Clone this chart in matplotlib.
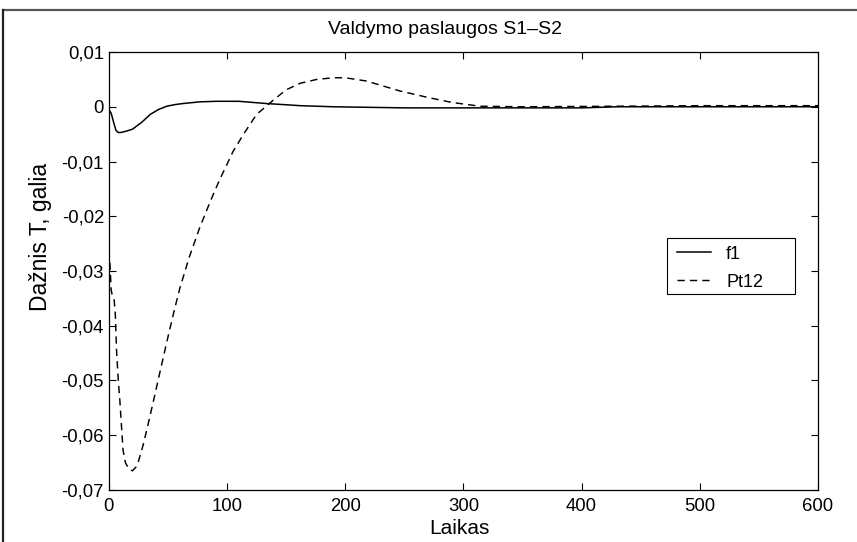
import matplotlib
matplotlib.use("Agg")
import matplotlib.pyplot as plt
from matplotlib.lines import Line2D
from matplotlib.patches import Rectangle

plt.rcParams["font.family"] = ["Liberation Sans", "DejaVu Sans"]

# ── Data ──────────────────────────────────────────────────────────────────
f1_t = [0, 2, 4, 6, 8, 10, 14, 20, 28, 35, 42, 49, 56, 63, 77, 91, 110,
        133, 162, 190, 220, 250, 300, 350, 400, 430, 500, 600]
f1_v = [-0.0005, -0.0012, -0.0028, -0.0043, -0.0047, -0.0047, -0.0045,
        -0.0041, -0.0028, -0.0014, -0.0005, 0.0001, 0.0004, 0.0006, 0.0009,
        0.0010, 0.0010, 0.0006, 0.0002, 0.0, -0.0001, -0.0002, -0.0002,
        -0.0002, -0.0002, 0.0, 0.0, 0.0]

pt_t = [0, 1, 2, 3, 4.5, 5.5, 6.5, 8, 9.3, 12, 14, 17, 20, 23, 25, 29, 33,
        38, 43, 49, 55, 60, 68, 77, 86, 94, 100, 105, 114, 125, 138, 150,
        162, 176, 190, 200, 218, 246, 270, 290, 314, 350, 430, 500, 600]
pt_v = [-0.0262, -0.0290, -0.0335, -0.0345, -0.0353, -0.0380, -0.0444,
        -0.0500, -0.0536, -0.0627, -0.0650, -0.0662, -0.0665, -0.0658,
        -0.0648, -0.0618, -0.0582, -0.0535, -0.0487, -0.0430, -0.0375,
        -0.0332, -0.0275, -0.0220, -0.0172, -0.0132, -0.0105, -0.0082,
        -0.0050, -0.0014, 0.0010, 0.0031, 0.0043, 0.0050, 0.0053, 0.0053,
        0.0047, 0.0029, 0.0017, 0.0008, 0.0001, 0.0, 0.0001, 0.0002, 0.0002]

x_ticks = [0, 100, 200, 300, 400, 500, 600]
y_ticks = [0.01, 0, -0.01, -0.02, -0.03, -0.04, -0.05, -0.06, -0.07]
y_labels = ["0,01", "0", "-0,01", "-0,02", "-0,03", "-0,04", "-0,05",
            "-0,06", "-0,07"]

# ── Figure ────────────────────────────────────────────────────────────────
fig = plt.figure(figsize=(8.57, 5.42), dpi=100, facecolor="white")
ax = fig.add_axes([0.127, 0.096, 0.8275, 0.808])

ax.plot(f1_t, f1_v, color="black", linewidth=1.1, label="f1")
ax.plot(pt_t, pt_v, color="black", linewidth=1.05, dashes=(5, 3.5),
        label="Pt12")

ax.set_xlim(0, 600)
ax.set_ylim(-0.07, 0.01)
ax.set_xticks(x_ticks)
ax.set_xticklabels([str(v) for v in x_ticks])
ax.set_yticks(y_ticks)
ax.set_yticklabels(y_labels)
ax.tick_params(direction="in", top=True, right=True, length=5,
               width=0.8, labelsize=13.3, colors="black")
ax.tick_params(axis="x", pad=6)
for spine in ax.spines.values():
    spine.set_linewidth(0.9)

ax.set_title("Valdymo paslaugos S1\u2013S2", fontsize=14, pad=13, x=0.474)
ax.set_xlabel("Laikas", fontsize=15, labelpad=3, x=0.494)
ax.set_ylabel("Dažnis T, galia", fontsize=16.5, labelpad=7, y=0.578)

# legend: entries without frame, box drawn to the reference size
leg = ax.legend(loc="upper left", bbox_to_anchor=(0.8005, 0.558),
                fontsize=13, frameon=False, handlelength=1.9,
                handletextpad=0.85, borderpad=0, labelspacing=0.62,
                borderaxespad=0)
ax.add_patch(Rectangle((0.787, 0.4475), 0.1805, 0.1275,
                       transform=ax.transAxes, facecolor="white",
                       edgecolor="black", linewidth=0.8, zorder=4))
leg.set_zorder(5)

# frame lines of the cropped figure
fig.add_artist(Line2D([3 / 857, 1], [1 - 9.5 / 542, 1 - 9.5 / 542],
                      transform=fig.transFigure, color="#555555",
                      linewidth=1.6))
fig.add_artist(Line2D([3 / 857, 3 / 857], [0, 1 - 9.5 / 542],
                      transform=fig.transFigure, color="#222222",
                      linewidth=1.6))

fig.savefig("out.png", dpi=100, facecolor="white")
